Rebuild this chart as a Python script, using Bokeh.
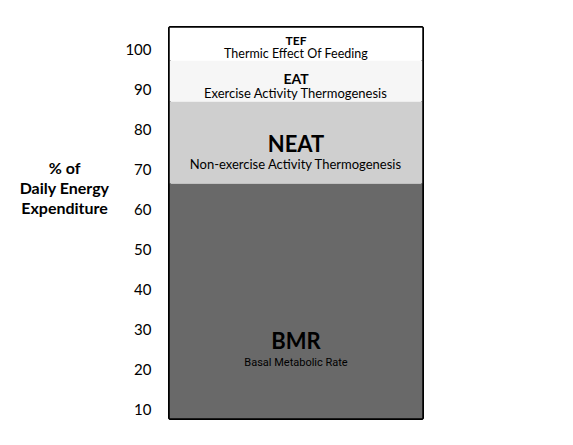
from bokeh.plotting import figure
from bokeh.layouts import row
from bokeh.models import ColumnDataSource, FixedTicker, Range1d
from bokeh.core.properties import value
from bokeh.embed import file_html
from bokeh.resources import INLINE

# energy expenditure bands, bottom to top (% of daily energy expenditure)
bands = ["BMR", "NEAT", "EAT", "TEF"]
names = ["Basal Metabolic Rate", "Non-exercise Activity Thermogenesis",
         "Exercise Activity Thermogenesis", "Thermic Effect Of Feeding"]
bottoms = [7.75, 66.5, 87.0, 97.25]
tops = [66.5, 87.0, 97.25, 105.5]
ticks = [10, 20, 30, 40, 50, 60, 70, 80, 90, 100]
axis_title = "% of\nDaily Energy\nExpenditure"

colors = ["#696969", "#cfcfcf", "#f6f6f6", "#ffffff"]
title_y = [27.25, 76.5, 92.75, 102.25]
name_y = [21.75, 71.5, 89.25, 99.0]
title_size = ["22px", "22px", "14px", "12px"]
name_size = ["11px", "13px", "13px", "12.5px"]
name_font = ["Roboto", "Lato", "Lato", "Lato"]

yr = Range1d(bottoms[0], tops[-1])

# left panel holding the axis title
side = figure(x_range=(0, 1), y_range=yr, frame_width=122, frame_height=391,
              min_border_left=0, min_border_right=0,
              min_border_top=27, min_border_bottom=11,
              output_backend="svg", toolbar_location=None)
side.axis.visible = False
side.grid.visible = False
side.outline_line_color = None
side.text(x=[0.525], y=[65.5], text=[axis_title], text_align="center",
          text_baseline="middle", text_font=value("Lato"), text_font_style="bold",
          text_font_size="16px", text_line_height=1.05, text_color="black")

p = figure(x_range=(0, 1), y_range=yr, frame_width=253, frame_height=391,
           min_border_left=44, min_border_right=136,
           min_border_top=27, min_border_bottom=11,
           output_backend="svg", toolbar_location=None)

src = ColumnDataSource(dict(band=bands, name=names, bottom=bottoms, top=tops,
                            color=colors, ty=title_y, ny=name_y,
                            ts=title_size, ns=name_size, nf=name_font,
                            x=[0.5] * 4))

p.quad(left=0, right=1, bottom="bottom", top="top", fill_color="color",
       line_color=None, source=src)

p.text(x="x", y="ty", text="band", source=src, text_align="center",
       text_baseline="middle", text_font=value("Lato"), text_font_style="bold",
       text_font_size="ts", text_color="black")
p.text(x="x", y="ny", text="name", source=src, text_align="center",
       text_baseline="middle", text_font="nf", text_font_size="ns",
       text_color="black")

p.xaxis.visible = False
p.grid.visible = False
p.yaxis.ticker = FixedTicker(ticks=ticks)
p.yaxis.axis_line_color = None
p.yaxis.major_tick_line_color = None
p.yaxis.minor_tick_line_color = None
p.yaxis.major_label_standoff = 12
p.yaxis.major_label_text_font = "Lato"
p.yaxis.major_label_text_font_size = "15px"
p.yaxis.major_label_text_color = "black"

p.outline_line_color = "black"
p.outline_line_width = 3
p.outline_line_alpha = 1
p.background_fill_color = "white"
p.border_fill_color = "white"

layout = row(side, p, spacing=0)
open("out.html", "w").write(file_html(layout, INLINE))
